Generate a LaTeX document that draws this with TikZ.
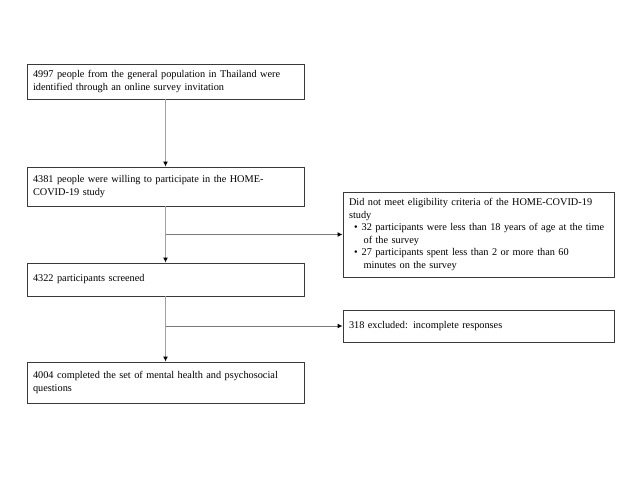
\documentclass[tikz,border=0pt]{standalone}
\usepackage{fontspec}
\setmainfont{Liberation Serif}
\usetikzlibrary{arrows.meta}
\definecolor{boxline}{HTML}{3A3A3A}
\definecolor{conn}{HTML}{A0A0A0}
\definecolor{branch}{HTML}{7A7A7A}
\tikzset{
  flowbox/.style={draw=boxline, line width=0.9pt, fill=white, inner xsep=6pt, inner ysep=0pt,
    align=left, font=\fontsize{10.3}{12.6}\selectfont, text=black},
  vconn/.style={draw=conn, line width=1.8pt, -{Latex[length=5pt,width=5pt,color=black]}},
  hconn/.style={draw=branch, line width=1pt, -{Latex[length=5pt,width=5pt,color=black]}}
}
\newcommand{\bulitem}{\hspace*{5pt}\llap{}\textbullet\hspace{4pt}}
\newcommand{\bulcont}{\hspace*{14.6pt}}
\begin{document}
\begin{tikzpicture}[x=1pt,y=-1pt]
\useasboundingbox (0,0) rectangle (640,480);
\fill[white] (0,0) rectangle (640,480);

\node[flowbox, minimum width=277pt, minimum height=35pt, text width=265pt] (b1) at (165.5,81.5)
  {4997 people from the general population in Thailand were\\identified through an online survey invitation};
\node[flowbox, minimum width=277pt, minimum height=39pt, text width=265pt] (b2) at (165.5,186.5)
  {4381 people were willing to participate in the HOME-\\COVID-19 study};
\node[flowbox, minimum width=277pt, minimum height=33pt, text width=265pt] (b3) at (165.5,279.5)
  {4322 participants screened};
\node[flowbox, minimum width=277pt, minimum height=41pt, text width=265pt] (b4) at (165.5,382.5)
  {4004 completed the set of mental health and psychosocial\\questions};

\node[flowbox, minimum width=271pt, minimum height=85pt, text width=259pt] (r1) at (478.5,234.5)
  {Did not meet eligibility criteria of the HOME-COVID-19\\
   study\\
   \bulitem 32 participants were less than 18 years of age at the time\\
   \bulcont of the survey\\
   \bulitem 27 participants spent less than 2 or more than 60\\
   \bulcont minutes on the survey};
\node[flowbox, minimum width=271pt, minimum height=32pt, text width=259pt] (r2) at (478.5,326)
  {318 excluded: incomplete responses};

\coordinate (j1) at (b2.south |- r1.west);
\coordinate (j2) at (b3.south |- r2.west);

\draw[vconn] (b1.south) -- (b2.north);
\draw[vconn] (b2.south) -- (b3.north);
\draw[vconn] (b3.south) -- (b4.north);
\draw[hconn] (j1) -- (r1.west);
\draw[hconn] (j2) -- (r2.west);
\end{tikzpicture}
\end{document}
